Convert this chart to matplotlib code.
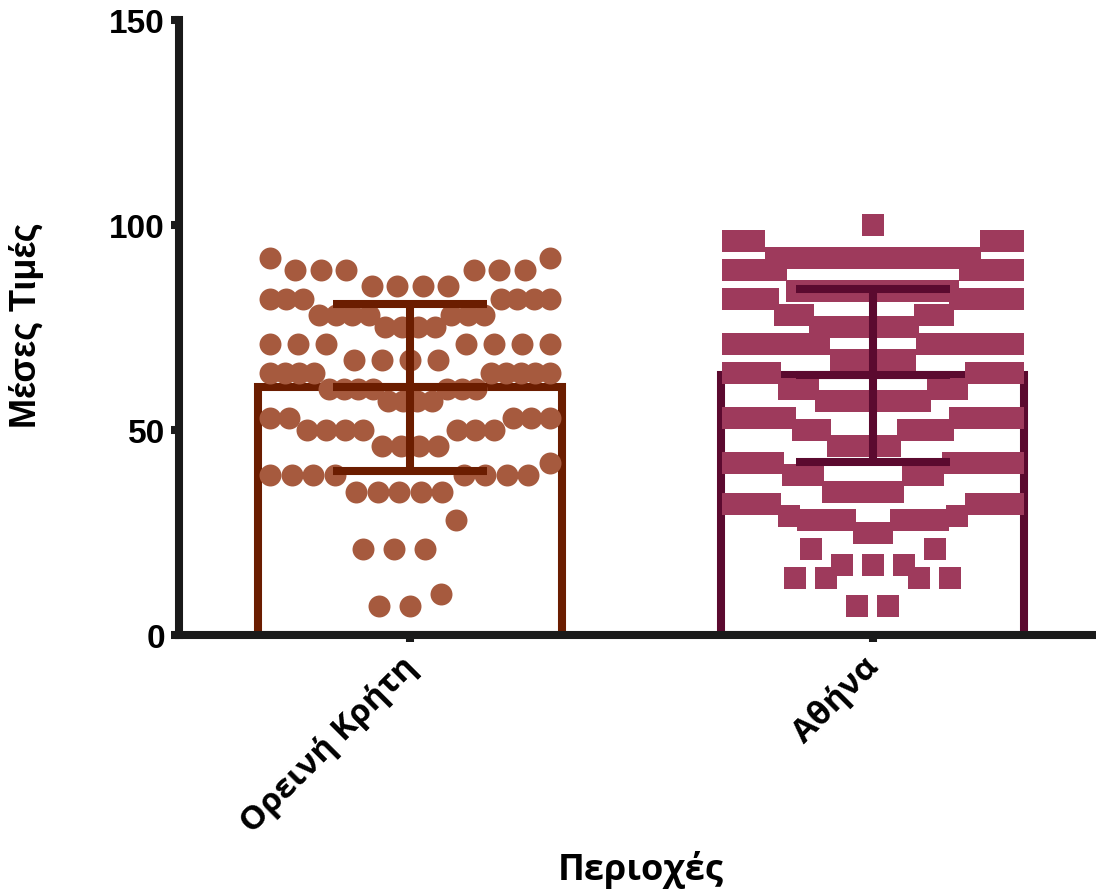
import numpy as np
import matplotlib.pyplot as plt
from matplotlib.transforms import ScaledTranslation

# values (value -> number of points)
kriti_vals = [7, 10, 21, 28, 35, 39, 42, 46, 50, 53, 57, 60, 64, 67, 71, 75, 78, 82, 85, 89, 92]
kriti_counts = [2, 1, 3, 1, 5, 8, 1, 4, 7, 5, 4, 7, 9, 4, 7, 4, 7, 7, 4, 6, 2]

athina_vals = [7, 14, 17, 21, 25, 28, 29, 32, 35, 39, 42, 46, 50, 53, 57, 60, 64,
               67, 71, 75, 78, 82, 84, 89, 92, 96, 100]
athina_counts = [2, 4, 3, 2, 2, 6, 2, 6, 4, 4, 7, 4, 5, 8, 6, 4, 6,
                 4, 10, 6, 4, 7, 8, 6, 10, 4, 1]

categories = ['Ορεινή Κρήτη', 'Αθήνα']
means = [60.4, 63.3]
sds = [20.4, 21.2]

dot_colors = ['#A65A3E', '#9E3A5C']
bar_colors = ['#6B1D00', '#5B0A2F']
markers = ['o', 's']

W, H = 1096, 895
fig = plt.figure(figsize=(W / 100, H / 100), dpi=100)
ax = fig.add_axes([179 / W, (H - 636) / H, (W - 179) / W, 615 / H])
xmin, xmax = -0.499, 1.482
ax.set_xlim(xmin, xmax)
ax.set_ylim(0, 150)
px_per_unit = (W - 179) / (xmax - xmin)


def swarm(values, counts, width=280, smax=31, window=7.5):
    # prism-like layout: close values share a row of slots, lowest in the middle
    v = np.repeat(values, counts).astype(float)
    v.sort()
    offs = np.zeros(len(v))
    i = 0
    while i < len(v):
        j = i
        while j < len(v) and v[j] <= v[i] + window:
            j += 1
        n = j - i
        s = smax if n < 2 else min(smax, width / (n - 1))
        slots = sorted(np.arange(n) - (n - 1) / 2, key=lambda t: (abs(t), t))
        offs[i:j] = np.array(slots) * s
        i = j
    return v, offs / px_per_unit


lw = 5.8
data = [(kriti_vals, kriti_counts), (athina_vals, athina_counts)]
for k in range(2):
    ax.bar(k, means[k], width=0.655, color='white', edgecolor=bar_colors[k],
           linewidth=lw, zorder=1)
    y, dx = swarm(*data[k])
    ax.scatter(k + dx, y, s=250 if markers[k] == 'o' else 240, marker=markers[k],
               color=dot_colors[k], linewidths=0, zorder=2)
    ax.errorbar(k, means[k], yerr=sds[k], fmt='_', ms=111, mew=lw, capsize=55.5,
                capthick=lw, elinewidth=lw, color=bar_colors[k], zorder=3)

for side in ['top', 'right']:
    ax.spines[side].set_visible(False)
for side in ['left', 'bottom']:
    ax.spines[side].set_linewidth(lw)
    ax.spines[side].set_color('#1a1a1a')
    ax.spines[side].set_zorder(4)

ax.set_yticks([0, 50, 100, 150])
ax.tick_params(axis='y', length=6, width=lw, color='#1a1a1a', pad=4)
ax.tick_params(axis='x', length=5, width=lw, color='#1a1a1a', pad=6)
for t in ax.get_yticklabels():
    t.set_fontfamily('Liberation Sans')
    t.set_fontweight('bold')
    t.set_fontsize(24)

ax.set_xticks([0, 1])
ax.set_xticklabels(categories, rotation=45, ha='right', rotation_mode='anchor',
                   fontfamily='Open Sans', fontweight='bold', fontsize=24)
shift = ScaledTranslation(-10 / 100, 0, fig.dpi_scale_trans)
for t in ax.get_xticklabels():
    t.set_transform(t.get_transform() + shift)

ax.set_ylabel('Μέσες Τιμές', fontfamily='Liberation Sans', fontweight='bold',
              fontsize=26, va='center')
ax.yaxis.set_label_coords(-0.166, 0.506)
ax.set_xlabel('Περιοχές', fontfamily='Open Sans', fontweight='bold',
              fontsize=26, va='center')
ax.xaxis.set_label_coords(0.503, -0.38)

fig.savefig('out.png', dpi=100)
